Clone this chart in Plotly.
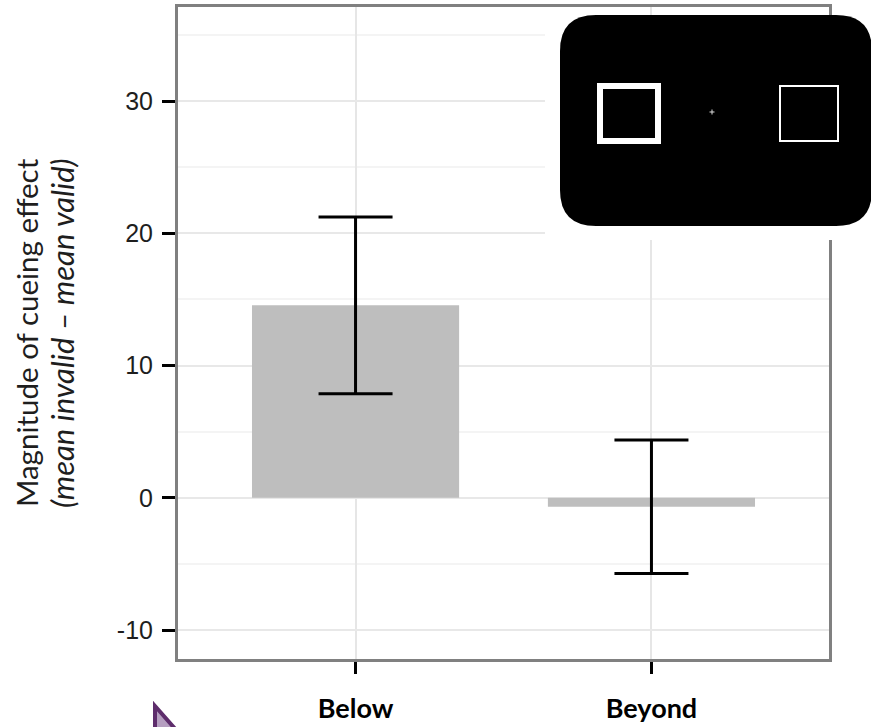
import plotly.graph_objects as go

# Cueing effect by target location (mean invalid RT minus mean valid RT)
conditions = ["Below", "Beyond"]
cueing_effect = [14.55, -0.68]
ci_halfwidth = [6.68, 5.05]

y_tick_values = [-10, 0, 10, 20, 30]
y_tick_labels = ["-10", "0", "10", "20", "30"]

W, H = 871, 727
M_L, M_R, M_T, M_B = 178, 42, 7, 68
PW, PH = W - M_L - M_R, H - M_T - M_B


def px(x):
    """Horizontal pixel position -> paper coordinate."""
    return (x - M_L) / PW


def py(y):
    """Vertical pixel position (from top) -> paper coordinate."""
    return (H - M_B - y) / PH


def path(points, close=True):
    s = "M" + " L".join(f"{px(x):.5f},{py(y):.5f}" for x, y in points)
    return s + (" Z" if close else "")


def rounded_rect(x0, y0, x1, y1, r):
    return (
        f"M{px(x0 + r):.5f},{py(y0):.5f} L{px(x1 - r):.5f},{py(y0):.5f} "
        f"Q{px(x1):.5f},{py(y0):.5f} {px(x1):.5f},{py(y0 + r):.5f} "
        f"L{px(x1):.5f},{py(y1 - r):.5f} "
        f"Q{px(x1):.5f},{py(y1):.5f} {px(x1 - r):.5f},{py(y1):.5f} "
        f"L{px(x0 + r):.5f},{py(y1):.5f} "
        f"Q{px(x0):.5f},{py(y1):.5f} {px(x0):.5f},{py(y1 - r):.5f} "
        f"L{px(x0):.5f},{py(y0 + r):.5f} "
        f"Q{px(x0):.5f},{py(y0):.5f} {px(x0 + r):.5f},{py(y0):.5f} Z"
    )


fig = go.Figure(
    go.Bar(
        x=conditions,
        y=cueing_effect,
        width=0.7,
        marker=dict(color="#bebebe", line=dict(width=0)),
        error_y=dict(
            type="data",
            array=ci_halfwidth,
            visible=True,
            color="black",
            thickness=3,
            width=37,
        ),
        showlegend=False,
    )
)

axis_line = dict(showline=True, linecolor="#808080", linewidth=3, mirror=True)

fig.update_xaxes(
    range=[-0.6, 1.6],
    automargin=False,
    showgrid=True,
    gridcolor="#e6e6e6",
    gridwidth=1.5,
    ticks="outside",
    ticklen=12,
    tickwidth=3,
    tickcolor="black",
    ticklabelstandoff=12,
    tickfont=dict(family="Lato", size=27, color="black", weight="bold"),
    zeroline=False,
    **axis_line,
)

fig.update_yaxes(
    range=[-12.19, 37.11],
    automargin=False,
    tickvals=y_tick_values,
    ticktext=y_tick_labels,
    showgrid=True,
    gridcolor="#e8e8e8",
    gridwidth=2,
    minor=dict(dtick=5, tick0=0, showgrid=True, gridcolor="#f4f4f4", gridwidth=2, ticklen=0),
    ticks="outside",
    ticklen=13,
    tickwidth=3,
    tickcolor="black",
    ticklabelstandoff=4,
    tickfont=dict(family="Liberation Sans", size=25, color="#1e1e1e"),
    zeroline=False,
    **axis_line,
)

shapes = [
    # inset panel: white backing, black screen, placeholder boxes and fixation cross
    dict(type="rect", xref="paper", yref="paper", x0=px(545), x1=px(875), y0=py(15), y1=py(240),
         fillcolor="white", line=dict(width=0), layer="above"),
    dict(type="path", xref="paper", yref="paper", path=rounded_rect(560, 15, 872, 226, 36),
         fillcolor="black", line=dict(width=0), layer="above"),
    dict(type="rect", xref="paper", yref="paper", x0=px(600), x1=px(658), y0=py(86), y1=py(141),
         fillcolor="rgba(0,0,0,0)", line=dict(color="white", width=6), layer="above"),
    dict(type="rect", xref="paper", yref="paper", x0=px(780), x1=px(838), y0=py(86), y1=py(141),
         fillcolor="rgba(0,0,0,0)", line=dict(color="white", width=2), layer="above"),
    dict(type="path", xref="paper", yref="paper", path=path([(709.5, 112), (714.5, 112)], close=False),
         line=dict(color="#dddddd", width=1), layer="above"),
    dict(type="path", xref="paper", yref="paper", path=path([(712, 109.5), (712, 114.5)], close=False),
         line=dict(color="#dddddd", width=1), layer="above"),
    # corner marker at lower left
    dict(type="path", xref="paper", yref="paper", path=path([(155, 706), (155, 731), (177, 731)]),
         fillcolor="#b59ec0", line=dict(color="#5e2d6c", width=4), layer="above"),
]

annotations = [
    dict(text="Magnitude of cueing effect", xref="paper", yref="paper",
         x=px(26), y=py(333), textangle=-90, showarrow=False,
         xanchor="center", yanchor="middle",
         font=dict(family="Lato", size=29.5, color="#1e1e1e")),
    dict(text="<i>(mean invalid \u2013 mean valid)</i>", xref="paper", yref="paper",
         x=px(62), y=py(333), textangle=-90, showarrow=False,
         xanchor="center", yanchor="middle",
         font=dict(family="Lato", size=31, color="#1e1e1e")),
]

fig.update_layout(
    width=W,
    height=H,
    margin=dict(l=M_L, r=M_R, t=M_T, b=M_B, pad=0),
    paper_bgcolor="white",
    plot_bgcolor="white",
    shapes=shapes,
    annotations=annotations,
    bargap=0.3,
)

fig.write_html("out.html")
